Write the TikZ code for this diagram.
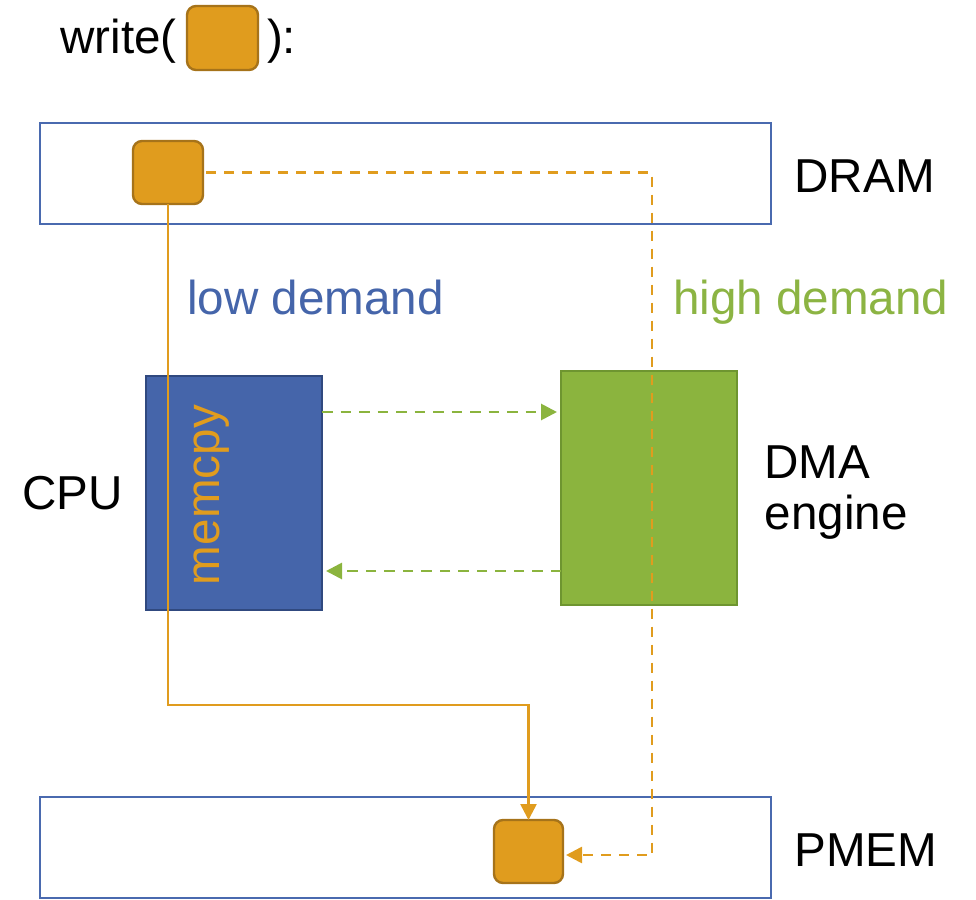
\documentclass[tikz,border=0pt]{standalone}
\usepackage{fontspec}
\setmainfont{Liberation Sans}
\usetikzlibrary{arrows.meta}

\definecolor{chunkfill}{HTML}{E09C1E}
\definecolor{chunkedge}{HTML}{A6731A}
\definecolor{memblue}{HTML}{4A6AAF}
\definecolor{cpufill}{HTML}{4565AA}
\definecolor{cpuedge}{HTML}{30497F}
\definecolor{dmafill}{HTML}{8BB43E}
\definecolor{dmaedge}{HTML}{6E9530}
\definecolor{greentext}{HTML}{8CB443}
\definecolor{bluetext}{HTML}{4565AA}

\begin{document}
\begin{tikzpicture}[x=1pt,y=-1pt,
  every node/.style={font=\fontsize{47.6}{57}\selectfont},
  label/.style={anchor=base west, inner sep=0pt, outer sep=0pt},
  chunk/.style={draw=chunkedge, fill=chunkfill, line width=2.4pt,
    rounded corners=9pt, inner sep=0pt, outer sep=0pt},
  memory/.style={draw=memblue, line width=2.8pt, inner sep=0pt, outer sep=0pt,
    minimum width=731pt, minimum height=101pt},
  unit/.style={line width=2.4pt, inner sep=0pt, outer sep=0pt,
    minimum width=176pt, minimum height=234pt},
  copyline/.style={draw=chunkfill, line width=2.6pt,
    -{Triangle[length=16pt,width=16pt]}},
  copydash/.style={copyline, dash pattern=on 10pt off 8pt},
  ctrl/.style={draw=dmafill, line width=2.8pt, dash pattern=on 10.5pt off 8pt,
    -{Triangle[length=16pt,width=16pt]}, shorten >=4pt}
]
\useasboundingbox (0,0) rectangle (976,899);

% title: write( <chunk> ):
\node[label] (wropen) at (60.5,54) {write(};
\node[chunk, minimum width=71pt, minimum height=64pt] (wchunk) at (222.5,38) {};
\node[label] (wrclose) at (267,54) {):};

% memories
\node[memory] (dram) at (405.5,173.5) {};
\node[memory] (pmem) at (405.5,847.5) {};
\node[label] (dramlbl) at (794.6,192.7) {DRAM};
\node[label] (pmemlbl) at (794.5,866.7) {PMEM};

% data chunks in the memories
\node[chunk, minimum width=70pt, minimum height=63pt] (dchunk) at (168,172.5) {};
\node[chunk, minimum width=69pt, minimum height=63pt] (pchunk) at (528.5,851.5) {};

% compute units
\node[unit, draw=cpuedge, fill=cpufill] (cpu) at (234,493) {};
\node[unit, draw=dmaedge, fill=dmafill] (dma) at (649,488) {};
\node[label] (cpulbl) at (22.6,509) {CPU};
\node[label] (dmalbl) at (764.6,478) {DMA};
\node[label] (englbl) at (764.8,529.5) {engine};
\node[label, rotate=90, text=chunkfill] (memcpy) at (219,585) {memcpy};

% demand labels
\node[label, text=bluetext] (low) at (187,314) {low demand};
\node[label, text=greentext] (high) at (673,314) {high demand};

% bends of the two copy paths
\coordinate (cpubend) at (528.5,705);
\coordinate (dmabend) at (652,855);

% control between CPU and DMA engine
\draw[ctrl] ([yshift=81pt]cpu.east) -- ([yshift=81pt]cpu.east -| dma.west);
\draw[ctrl] ([yshift=-83pt]dma.west) -- ([yshift=-83pt]dma.west -| cpu.east);

% copy paths
\draw[copyline] (dchunk.south) |- (cpubend) -- (pchunk.north);
\draw[copydash] ([xshift=3pt]dchunk.east) -| (dmabend) -- ([xshift=3pt,yshift=-3.5pt]pchunk.east);
\end{tikzpicture}
\end{document}
